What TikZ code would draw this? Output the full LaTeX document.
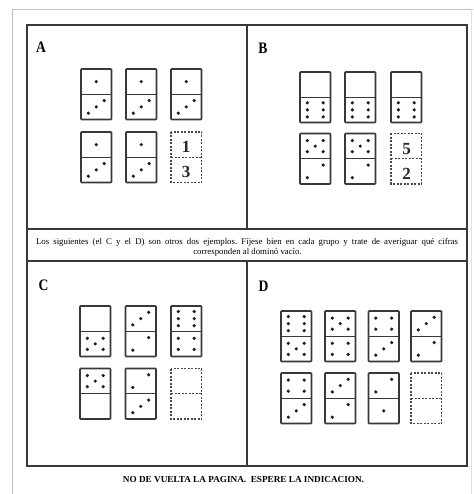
\documentclass[tikz,border=0pt]{standalone}
\usepackage{fontspec}
\setmainfont{Liberation Serif}
\frenchspacing
\tikzset{
  frame/.style={line width=1.3pt, draw=black!78},
  domc/.style={line width=1.6pt, draw=black!78, rounded corners=0.8pt},
  divc/.style={line width=1pt, draw=black!78},
  dashc/.style={line width=1.2pt, draw=black!72, dash pattern=on 2pt off 1.5pt},
  pipc/.style={fill=black!88},
  plabel/.style={font=\fontsize{16}{16}\selectfont\bfseries, inner sep=0pt},
  digit/.style={font=\fontsize{17}{17}\selectfont\bfseries, inner sep=0pt, text=black!85},
  pageedge/.style={draw=black!25, line width=0.7pt}
}
\def\dw{30.5}
\def\dh{25.25}
\newcommand\dpip[2]{\fill[pipc] ({\dx+#1*\dw},{\dy+#2*\dh}) circle[radius=1.8pt];}
\newcommand\halfpips[3]{%
  \def\dx{#2}\def\dy{#3}%
  \ifcase#1\relax
  \or \dpip{.5}{.5}%
  \or \dpip{.24}{.75}\dpip{.76}{.25}%
  \or \dpip{.24}{.75}\dpip{.5}{.5}\dpip{.76}{.25}%
  \or \dpip{.24}{.28}\dpip{.76}{.28}\dpip{.24}{.72}\dpip{.76}{.72}%
  \or \dpip{.24}{.28}\dpip{.76}{.28}\dpip{.5}{.5}\dpip{.24}{.72}\dpip{.76}{.72}%
  \or \dpip{.24}{.22}\dpip{.24}{.5}\dpip{.24}{.78}\dpip{.76}{.22}\dpip{.76}{.5}\dpip{.76}{.78}%
  \fi}
\newcommand\domino[4]{%
  \draw[domc] (#1,#2) rectangle ++(\dw,{2*\dh});
  \draw[divc] (#1,{#2+\dh}) -- ++(\dw,0);
  \halfpips{#3}{#1}{#2}%
  \halfpips{#4}{#1}{#2+\dh}%
}
\newcommand\dashdomino[2]{%
  \draw[dashc] (#1,#2) rectangle ++(\dw,{2*\dh});
  \draw[dashc] (#1,{#2+\dh}) -- ++(\dw,0);
}
\begin{document}
\begin{tikzpicture}[x=1pt,y=-1pt]
\useasboundingbox (0,0) rectangle (473,494);
% page edge
\draw[pageedge] (12,494) -- (12,9) -- (473,9);
\draw[draw=black!12, line width=0.7pt] (471,9) -- (471,494);
% frame
\draw[frame] (27,25) rectangle (467,466);
\draw[frame] (27,229) -- (467,229);
\draw[frame] (27,261) -- (467,261);
\draw[frame] (247,25) -- (247,229);
\draw[frame] (247,261) -- (247,466);
% labels
\node[plabel] (la) at (41,47) {\scalebox{0.85}[1]{A}};
\node[plabel] (lb) at (263,48) {\scalebox{0.85}[1]{B}};
\node[plabel] (lc) at (43.5,285) {\scalebox{0.85}[1]{C}};
\node[plabel] (ld) at (263.5,286) {\scalebox{0.85}[1]{D}};
% panel A
\domino{81}{69}{1}{3}
\domino{126}{69}{1}{3}
\domino{171}{69}{1}{3}
\domino{81}{132}{1}{3}
\domino{126}{132}{1}{3}
\dashdomino{171}{132}
\node[digit] (a1) at (186,146.5) {1};
\node[digit] (a3) at (186,171.5) {3};
% panel B
\domino{300}{72}{0}{6}
\domino{345}{72}{0}{6}
\domino{391}{72}{0}{6}
\domino{300}{133.5}{5}{2}
\domino{345}{133.5}{5}{2}
\dashdomino{391}{133.5}
\node[digit] (b5) at (406.5,149.5) {5};
\node[digit] (b2) at (406.5,174) {2};
% panel C
\domino{80}{306}{0}{5}
\domino{125.5}{306}{3}{2}
\domino{171}{306}{6}{4}
\domino{80}{368.5}{5}{0}
\domino{125.5}{368.5}{2}{3}
\dashdomino{171}{368.5}
% panel D
\domino{281}{311}{6}{5}
\domino{325}{311}{5}{4}
\domino{368.5}{311}{4}{3}
\domino{411}{311}{3}{2}
\domino{281}{373}{4}{3}
\domino{325}{373}{3}{2}
\domino{368.5}{373}{2}{1}
\dashdomino{411}{373}
% middle note
\node[anchor=base, inner sep=0pt] (note1) at (247,244)
  {\fontsize{8.8}{10}\selectfont\makebox[422pt][s]{Los siguientes (el C y el D) son otros dos ejemplos. Fíjese bien en cada grupo y trate de averiguar qué cifras}};
\node[anchor=base, inner sep=0pt] (note2) at (247.5,254.5)
  {\fontsize{8.8}{10}\selectfont corresponden al dominó vacío.};
% bottom note
\node[anchor=base, inner sep=0pt] (foot) at (243.5,482.5)
  {\fontsize{9.2}{10}\selectfont\bfseries NO DE VUELTA LA PAGINA.\ \ ESPERE LA INDICACION.};
\end{tikzpicture}
\end{document}
